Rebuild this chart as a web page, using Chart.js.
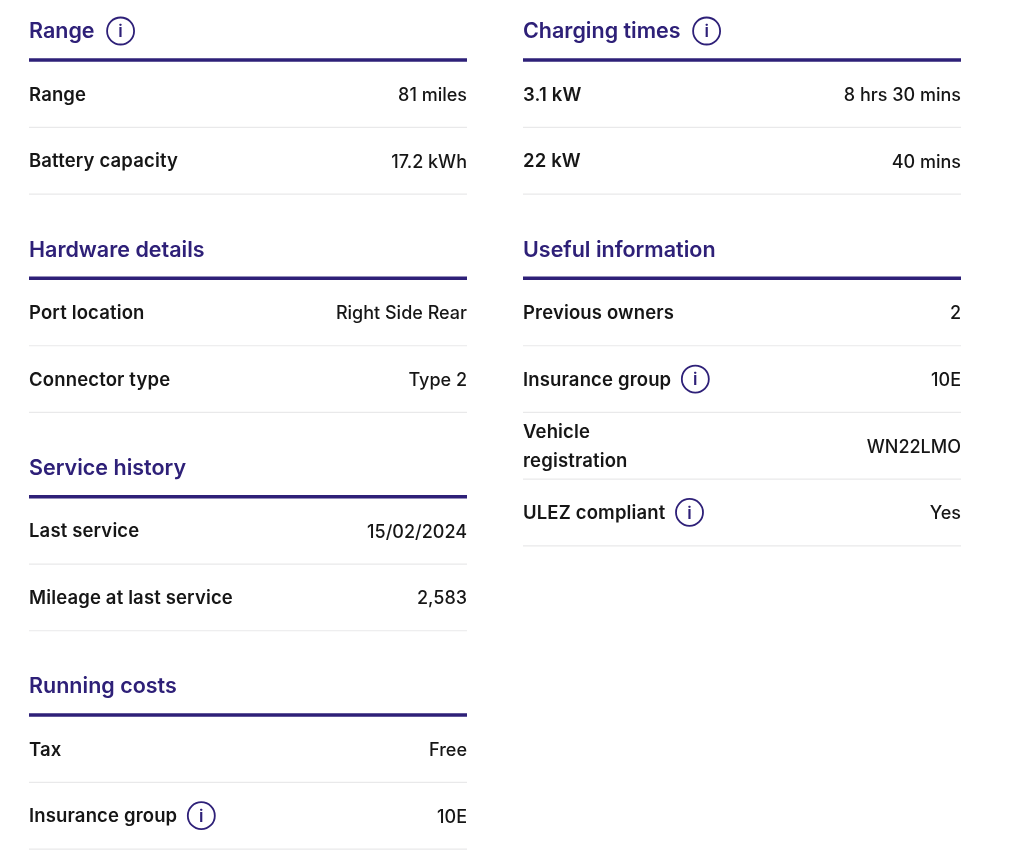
<!DOCTYPE html>
<html>
<head>
<meta charset="utf-8">
<style>
  html, body { margin: 0; padding: 0; background: #fff; }
  #wrap { width: 1024px; height: 859px; }
</style>
<script src="https://cdn.jsdelivr.net/npm/chart.js@4"></script>
</head>
<body>
<div id="wrap"><canvas id="chart"></canvas></div>
<script>
const leftTitles = ["Range", "Hardware details", "Service history", "Running costs"];
const leftLabels = [
  ["Range", "Battery capacity"],
  ["Port location", "Connector type"],
  ["Last service", "Mileage at last service"],
  ["Tax", "Insurance group"]
];
const leftValues = [
  ["81 miles", "17.2 kWh"],
  ["Right Side Rear", "Type 2"],
  ["15/02/2024", "2,583"],
  ["Free", "10E"]
];
const rightTitles = ["Charging times", "Useful information"];
const rightLabels = [
  ["3.1 kW", "22 kW"],
  ["Previous owners", "Insurance group", "Vehicle\nregistration", "ULEZ compliant"]
];
const rightValues = [
  ["8 hrs 30 mins", "40 mins"],
  ["2", "10E", "WN22LMO", "Yes"]
];
const titlesWithInfo = ["Range", "Charging times"];
const labelsWithInfo = ["Insurance group", "ULEZ compliant"];

const navy = "#2e2078";
const ink = "#161616";
const hairline = "#e9e9ea";
const titleFont = "600 21.5px Inter";
const labelFont = "600 18.5px Inter";
const valueFont = "500 18px Inter";
const labelSpacing = "0.15px";
const sectionStep = 218.33;
const rowStep = 66.7;

const columns = [
  { left: 29, right: 467, titles: leftTitles, labels: leftLabels, values: leftValues },
  { left: 523, right: 961, titles: rightTitles, labels: rightLabels, values: rightValues }
];

const measure = document.createElement("canvas").getContext("2d");
function widthOf(text, font, spacing) {
  measure.font = font;
  measure.letterSpacing = spacing;
  return measure.measureText(text).width;
}

const datasets = [];
const texts = [];
const icons = [];

columns.forEach((col) => {
  col.titles.forEach((title, s) => {
    const top = s * sectionStep;
    texts.push({ text: title, x: col.left, y: top + 32, font: titleFont, color: navy, align: "left", spacing: "0px" });
    if (titlesWithInfo.includes(title)) {
      icons.push({ x: col.left + widthOf(title, titleFont, "0px") + 26, y: top + 31 });
    }
    datasets.push({
      type: "line",
      data: [{ x: col.left, y: top + 60 }, { x: col.right, y: top + 60 }],
      borderColor: navy,
      borderWidth: 3.5,
      pointRadius: 0
    });
    col.labels[s].forEach((label, r) => {
      const y = top + 94 + r * rowStep;
      const lines = label.split("\n");
      lines.forEach((line, l) => {
        texts.push({ text: line, x: col.left, y: y + 1 + (l - (lines.length - 1) / 2) * 29, font: labelFont, color: ink, align: "left", spacing: labelSpacing });
      });
      texts.push({ text: col.values[s][r], x: col.right, y: y + 1.5, font: valueFont, color: ink, align: "right", spacing: "0px" });
      if (labelsWithInfo.includes(label)) {
        icons.push({ x: col.left + widthOf(label, labelFont, labelSpacing) + 24, y: y });
      }
      datasets.push({
        type: "line",
        data: [{ x: col.left, y: y + 33.4 }, { x: col.right, y: y + 33.4 }],
        borderColor: hairline,
        borderWidth: 1.2,
        pointRadius: 0
      });
    });
  });
});

datasets.push({
  type: "scatter",
  data: icons,
  pointStyle: "circle",
  pointRadius: 13.5,
  pointBorderWidth: 1.8,
  pointBorderColor: navy,
  pointBackgroundColor: "rgba(0,0,0,0)",
  clip: false
});

const tableText = {
  id: "tableText",
  afterDatasetsDraw(chart) {
    const { ctx, scales } = chart;
    ctx.save();
    ctx.textBaseline = "middle";
    texts.forEach((t) => {
      ctx.font = t.font;
      ctx.letterSpacing = t.spacing;
      ctx.fillStyle = t.color;
      ctx.textAlign = t.align;
      ctx.fillText(t.text, scales.x.getPixelForValue(t.x), scales.y.getPixelForValue(t.y));
    });
    ctx.letterSpacing = "0px";
    ctx.font = "600 17px Inter";
    ctx.fillStyle = navy;
    ctx.textAlign = "center";
    icons.forEach((p) => {
      ctx.fillText("i", scales.x.getPixelForValue(p.x), scales.y.getPixelForValue(p.y) + 1);
    });
    ctx.restore();
  }
};

new Chart(document.getElementById("chart"), {
  type: "line",
  data: { datasets: datasets },
  plugins: [tableText],
  options: {
    responsive: true,
    maintainAspectRatio: false,
    animation: false,
    layout: { padding: 0, autoPadding: false },
    plugins: { legend: { display: false }, tooltip: { enabled: false } },
    scales: {
      x: { type: "linear", min: 0, max: 1024, display: false },
      y: { type: "linear", min: 0, max: 859, reverse: true, display: false }
    }
  }
});
</script>
</body>
</html>
